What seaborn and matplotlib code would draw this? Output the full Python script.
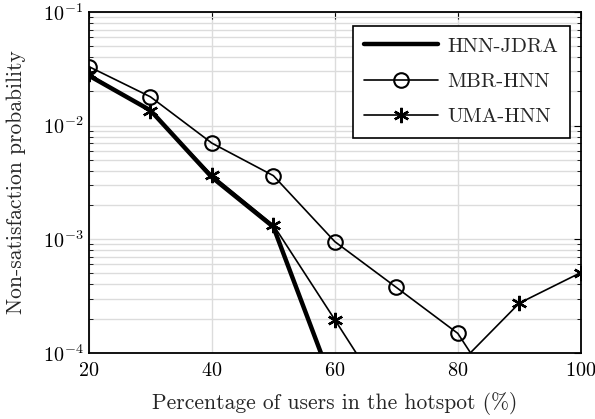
import matplotlib
matplotlib.use("Agg")
import matplotlib.pyplot as plt
import numpy as np
import pandas as pd
import seaborn as sns

# Percentage of users located in the hotspot
hotspot_pct = [20, 30, 40, 50, 60, 70, 80, 90, 100]

# Non-satisfaction probability per scheme (values below 1e-4 fall off the plot)
hnn_jdra = [0.0275, 0.0136, 0.0035, 0.00128, 4.7e-5, 1e-5, 1e-5, 1e-5, 1e-5]
mbr_hnn = [0.033, 0.0179, 0.0070, 0.00362, 0.00095, 0.000376, 0.000148, 2.2e-5, 1e-5]
uma_hnn = [0.0284, 0.0133, 0.00367, 0.00133, 0.000195, 2.8e-5, 7.7e-5, 0.000273, 0.000507]

series_names = ["HNN-JDRA", "MBR-HNN", "UMA-HNN"]

sns.set_style("white")
plt.rcParams.update({
    "font.family": "serif",
    "font.serif": ["cmr10"],
    "mathtext.fontset": "cm",
    "axes.formatter.use_mathtext": True,
    "axes.unicode_minus": True,
})

fig = plt.figure(figsize=(5.95, 4.19), dpi=100)
ax = fig.add_axes([0.1496, 0.1582, 0.8264, 0.8132])

styles = {
    "HNN-JDRA": dict(lw=3.2, marker=None),
    "MBR-HNN": dict(lw=1.2, marker="o", markersize=10.5, markerfacecolor="none",
                    markeredgecolor="black", markeredgewidth=1.5),
    "UMA-HNN": dict(lw=1.2, marker=(6, 2, 0), markersize=11,
                    markeredgecolor="black", markeredgewidth=1.7),
}

for name, vals in zip(series_names, [hnn_jdra, mbr_hnn, uma_hnn]):
    df = pd.DataFrame({"x": hotspot_pct, "y": vals})
    sns.lineplot(data=df, x="x", y="y", ax=ax, color="black", label=name,
                 **styles[name])

ax.set_yscale("log")
ax.set_xlim(20, 100)
ax.set_ylim(1e-4, 1e-1)
ax.set_xticks([20, 40, 60, 80, 100])

ax.grid(True, which="major", axis="both", color="#dcdcdc", lw=1.0)
ax.grid(True, which="minor", axis="y", color="#dcdcdc", lw=1.0)
ax.set_axisbelow(True)

for sp in ax.spines.values():
    sp.set_color("black")
    sp.set_linewidth(1.3)

ax.tick_params(which="both", direction="in", top=True, right=True,
               labelsize=14.5, colors="black")
ax.tick_params(axis="x", which="major", length=5, pad=7)
ax.tick_params(axis="y", which="major", length=5, pad=4)
ax.tick_params(axis="y", which="minor", length=3, left=True, right=True)

ax.set_xlabel("Percentage of users in the hotspot (%)", fontsize=15.5, labelpad=8)
ax.set_ylabel("Non-satisfaction probability", fontsize=15.5, labelpad=12)

leg = ax.legend(loc="upper right", bbox_to_anchor=(0.978, 0.96), fontsize=15,
                frameon=True, fancybox=False, edgecolor="black",
                handlelength=3.55, handletextpad=0.45, labelspacing=0.8,
                borderpad=0.55, borderaxespad=0.0)
leg.get_frame().set_linewidth(1.2)
leg.get_frame().set_alpha(1.0)

fig.savefig("out.png", dpi=100)
